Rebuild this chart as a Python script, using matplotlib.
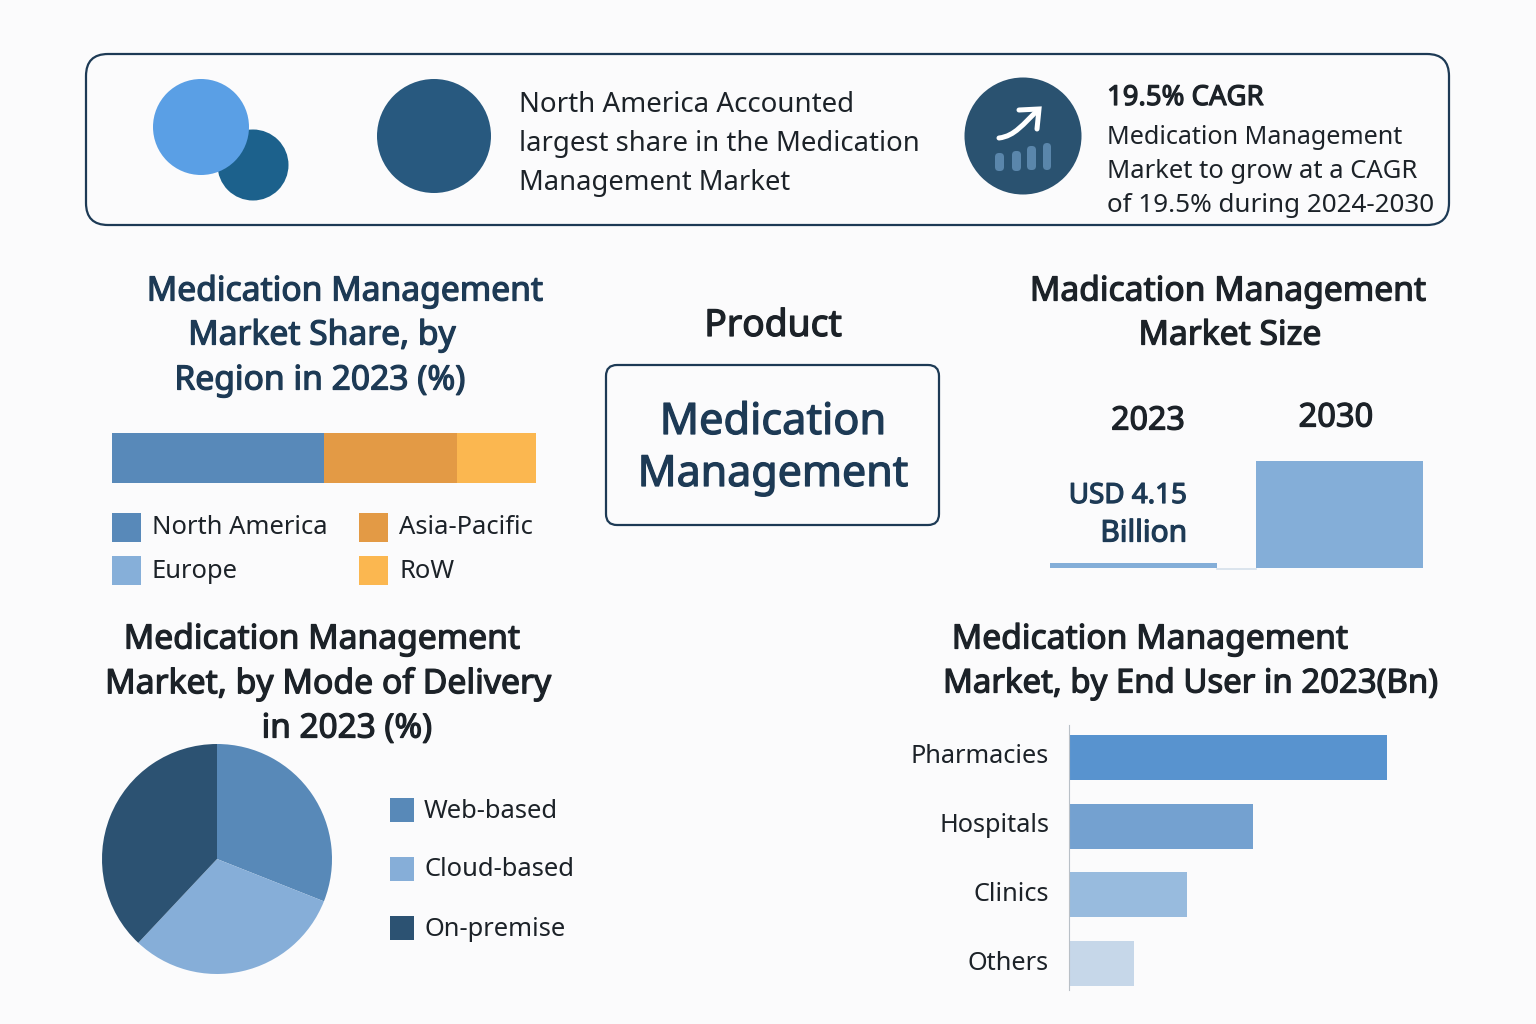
import matplotlib
matplotlib.use("Agg")
import matplotlib.pyplot as plt
import matplotlib.patheffects as pe
from matplotlib.patches import Circle, FancyBboxPatch, PathPatch, Rectangle
from matplotlib.path import Path
from matplotlib.transforms import ScaledTranslation

plt.rcParams['font.family'] = ['Noto Sans', 'DejaVu Sans']

# data
region_names = ["North America", "Asia-Pacific", "RoW"]
region_share = [50.0, 31.4, 18.6]
region_colors = ["#5889b9", "#e39a45", "#fbb750"]

size_years = ["2023", "2030"]
size_heights = [5, 107]  # bar heights, no scale on the chart

delivery_names = ["Web-based", "Cloud-based", "On-premise"]
delivery_share = [31, 31, 38]
delivery_colors = ["#5889b8", "#86aed8", "#2c5272"]

user_names = ["Pharmacies", "Hospitals", "Clinics", "Others"]
user_values = [1.93, 1.115, 0.715, 0.395]
user_colors = ["#5893cf", "#74a1d0", "#98bbde", "#c6d7e9"]

BG = "#fbfbfc"
NAVY = "#1d3a55"
DARK = "#1c2228"
W, H = 1536, 1024


def px_axes(fig, x0, y0, x1, y1):
    # axes placed by pixel box, y counted from the top
    return fig.add_axes([x0 / W, 1 - y1 / H, (x1 - x0) / W, (y1 - y0) / H])


def write(ax, x, y, s, size=18.4, color=DARK, heavy=False, ha="left"):
    t = ax.text(x, y + 3, s, fontsize=size, color=color, ha=ha, va="center")
    if heavy:
        # Noto Sans has only regular and bold here, thicken regular instead
        t.set_path_effects([pe.withStroke(linewidth=0.9, foreground=color)])
    return t


fig = plt.figure(figsize=(15.36, 10.24), dpi=100, facecolor=BG)

# overlay in pixel coordinates for banner, titles and legends
top = fig.add_axes([0, 0, 1, 1])
top.set_xlim(0, W)
top.set_ylim(H, 0)
top.axis("off")

top.add_patch(FancyBboxPatch((108, 76), 1319, 127, boxstyle="round,pad=22,rounding_size=22",
                             fc=BG, ec=NAVY, lw=1.6))
top.add_patch(Circle((253, 165), 35.5, fc="#1c618c"))
top.add_patch(Circle((201, 127), 48, fc="#5a9fe5"))
top.add_patch(Circle((434, 136), 57, fc="#28597f"))
top.add_patch(Circle((1023, 136), 58.5, fc="#2a5270"))

# trend icon
for x0, x1, y0, y1 in [(995, 1004, 153, 171), (1012, 1021, 151, 171),
                       (1027, 1036, 146, 170), (1043, 1051, 143, 170)]:
    top.add_patch(FancyBboxPatch((x0 + 3, y0 + 3), x1 - x0 - 6, y1 - y0 - 6,
                                 boxstyle="round,pad=3,rounding_size=4", fc="#5a86ab", ec="none"))
curve = Path([(999, 138), (1015, 136), (1023, 124), (1038, 110)],
             [Path.MOVETO, Path.CURVE4, Path.CURVE4, Path.CURVE4])
top.add_patch(PathPatch(curve, fc="none", ec="white", lw=3.6, capstyle="round"))
top.plot([1019, 1039, 1037], [110, 109, 129], color="white", lw=3.6,
         solid_capstyle="round", solid_joinstyle="miter")

write(top, 519, 102, "North America Accounted", 19.95)
write(top, 519, 141, "largest share in the Medication", 19.8)
write(top, 519, 180, "Management Market", 19.7)
write(top, 1107, 95, "19.5% CAGR", 19.8, heavy=True)
write(top, 1107, 134, "Medication Management", 18.1)
write(top, 1107, 169, "Market to grow at a CAGR", 18.45)
write(top, 1107, 203, "of 19.5% during 2024-2030", 18.75)

# section titles
for x, y, s, c, fs in [(345, 289, "Medication Management", NAVY, 24.2),
                       (322, 333, "Market Share, by", NAVY, 24.2),
                       (320, 378, "Region in 2023 (%)", NAVY, 24.2),
                       (1228, 289, "Madication Management", DARK, 24.2),
                       (1230, 333, "Market Size", DARK, 24.2),
                       (322, 637, "Medication Management", DARK, 24.2),
                       (328, 681, "Market, by Mode of Delivery", DARK, 24.3),
                       (347, 726, "in 2023 (%)", DARK, 24),
                       (1150, 637, "Medication Management", DARK, 24.2),
                       (1190, 681, "Market, by End User in 2023(Bn)", DARK, 23.7)]:
    write(top, x, y, s, fs, c, True, "center")
write(top, 773, 324, "Product", 26.8, DARK, True, "center")

# product box
top.add_patch(FancyBboxPatch((617, 376), 311, 138, boxstyle="round,pad=11,rounding_size=11",
                             fc=BG, ec=NAVY, lw=1.6))
write(top, 773, 420, "Medication", 31.2, NAVY, True, "center")
write(top, 773, 472, "Management", 30.9, NAVY, True, "center")

# region share stacked bar
ax = px_axes(fig, 112, 433, 536, 483)
left = 0
for name, val, col in zip(region_names, region_share, region_colors):
    ax.barh(0, val, left=left, height=1, color=col, label=name)
    left += val
ax.set_xlim(0, sum(region_share))
ax.set_ylim(-0.5, 0.5)
ax.axis("off")

for x, y, s, c in [(112, 513, "North America", "#5889b9"), (359, 513, "Asia-Pacific", "#e39a45"),
                   (112, 556, "Europe", "#86afd9"), (359, 556, "RoW", "#fbb750")]:
    top.add_patch(Rectangle((x, y), 29, 29, fc=c))
    write(top, x + 40, y + 12, s)

# market size
ax = px_axes(fig, 1050, 461, 1423, 568)
ax.bar(size_years, size_heights, width=167 / 206, color="#84aed8")
ax.set_xlim(-167 / 412, 1 + 167 / 412)
ax.set_ylim(0, 107)
ax.axis("off")
top.plot([1217, 1256], [568.5, 568.5], color="#d5e0ea", lw=1.2)
write(top, 1148, 418, size_years[0], 23.2, DARK, True, "center")
write(top, 1336, 415, size_years[1], 23.5, DARK, True, "center")
write(top, 1187, 493, "USD 4.15", 20.0, NAVY, True, "right")
write(top, 1187, 531, "Billion", 21.5, NAVY, True, "right")

# delivery pie
ax = px_axes(fig, 102, 744, 332, 974)
ax.pie(delivery_share, colors=delivery_colors, startangle=90, counterclock=False, radius=1)
ax.set_xlim(-1, 1)
ax.set_ylim(-1, 1)

for y, s, c in zip([798, 857, 916], delivery_names, delivery_colors):
    top.add_patch(Rectangle((390, y), 24, 24, fc=c))
    write(top, 424, y + 10, s)

# end user bars
ax = px_axes(fig, 1069, 725, 1450, 990)
ax.barh(user_names, user_values, height=0.652, color=user_colors)
ax.set_xlim(0, 1.93 * 381 / 318)
ax.set_ylim(3.384, -0.471)
for s in ["top", "right", "bottom"]:
    ax.spines[s].set_visible(False)
ax.spines["left"].set_color("#b9c0c7")
ax.set_xticks([])
ax.tick_params(axis="y", length=0, pad=14.4, labelsize=18.2, labelcolor=DARK)
ax.set_facecolor("none")
# labels sit a little above the bar centres in the reference
shift = ScaledTranslation(0, 2.5 / 72, fig.dpi_scale_trans)
for label in ax.get_yticklabels():
    label.set_transform(label.get_transform() + shift)

fig.savefig("out.png", dpi=100, facecolor=BG)
